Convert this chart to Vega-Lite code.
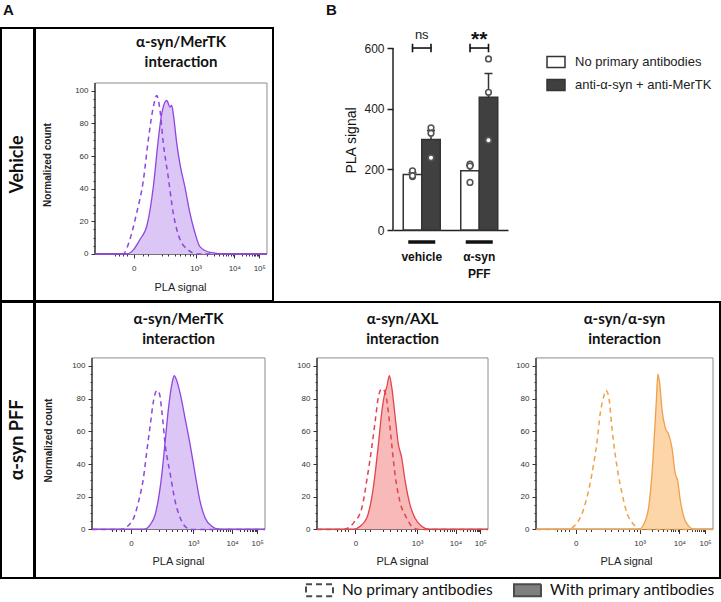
{
  "$schema": "https://vega.github.io/schema/vega-lite/v6.json",
  "padding": {"left": 0, "top": 2, "right": 0, "bottom": 0},
  "background": "white",
  "config": {"view": {"stroke": null}, "font": "Liberation Sans", "axis": {"labelOverlap": false}, "tick": {"opacity": 1}},
  "resolve": {"scale": {"fill": "independent", "strokeDash": "independent"}, "legend": {"fill": "independent", "strokeDash": "independent"}},
  "datasets": {
    "hist": [
      {"panel": "veh_mertk", "antibodies": "no", "channel": 0, "count": 0},
      {"panel": "veh_mertk", "antibodies": "no", "channel": 163, "count": 0},
      {"panel": "veh_mertk", "antibodies": "no", "channel": 203, "count": 9},
      {"panel": "veh_mertk", "antibodies": "no", "channel": 242, "count": 25},
      {"panel": "veh_mertk", "antibodies": "no", "channel": 281, "count": 45},
      {"panel": "veh_mertk", "antibodies": "no", "channel": 310, "count": 70},
      {"panel": "veh_mertk", "antibodies": "no", "channel": 339, "count": 90},
      {"panel": "veh_mertk", "antibodies": "no", "channel": 359, "count": 97},
      {"panel": "veh_mertk", "antibodies": "no", "channel": 378, "count": 88},
      {"panel": "veh_mertk", "antibodies": "no", "channel": 397, "count": 68},
      {"panel": "veh_mertk", "antibodies": "no", "channel": 426, "count": 47},
      {"panel": "veh_mertk", "antibodies": "no", "channel": 455, "count": 25},
      {"panel": "veh_mertk", "antibodies": "no", "channel": 494, "count": 9},
      {"panel": "veh_mertk", "antibodies": "no", "channel": 542, "count": 2.5},
      {"panel": "veh_mertk", "antibodies": "no", "channel": 591, "count": 0},
      {"panel": "veh_mertk", "antibodies": "no", "channel": 1000, "count": 0},
      {"panel": "veh_mertk", "antibodies": "with", "channel": 0, "count": 0},
      {"panel": "veh_mertk", "antibodies": "with", "channel": 184, "count": 0},
      {"panel": "veh_mertk", "antibodies": "with", "channel": 223, "count": 2.5},
      {"panel": "veh_mertk", "antibodies": "with", "channel": 262, "count": 9},
      {"panel": "veh_mertk", "antibodies": "with", "channel": 301, "count": 17},
      {"panel": "veh_mertk", "antibodies": "with", "channel": 339, "count": 41},
      {"panel": "veh_mertk", "antibodies": "with", "channel": 368, "count": 70},
      {"panel": "veh_mertk", "antibodies": "with", "channel": 388, "count": 86},
      {"panel": "veh_mertk", "antibodies": "with", "channel": 417, "count": 94},
      {"panel": "veh_mertk", "antibodies": "with", "channel": 436, "count": 90},
      {"panel": "veh_mertk", "antibodies": "with", "channel": 446, "count": 91},
      {"panel": "veh_mertk", "antibodies": "with", "channel": 455, "count": 86},
      {"panel": "veh_mertk", "antibodies": "with", "channel": 475, "count": 68},
      {"panel": "veh_mertk", "antibodies": "with", "channel": 494, "count": 55},
      {"panel": "veh_mertk", "antibodies": "with", "channel": 523, "count": 41},
      {"panel": "veh_mertk", "antibodies": "with", "channel": 552, "count": 25},
      {"panel": "veh_mertk", "antibodies": "with", "channel": 581, "count": 13},
      {"panel": "veh_mertk", "antibodies": "with", "channel": 610, "count": 4.5},
      {"panel": "veh_mertk", "antibodies": "with", "channel": 669, "count": 1},
      {"panel": "veh_mertk", "antibodies": "with", "channel": 766, "count": 0},
      {"panel": "veh_mertk", "antibodies": "with", "channel": 1000, "count": 0},

      {"panel": "pff_mertk", "antibodies": "no", "channel": 0, "count": 0},
      {"panel": "pff_mertk", "antibodies": "no", "channel": 163, "count": 0},
      {"panel": "pff_mertk", "antibodies": "no", "channel": 231, "count": 5},
      {"panel": "pff_mertk", "antibodies": "no", "channel": 269, "count": 17},
      {"panel": "pff_mertk", "antibodies": "no", "channel": 298, "count": 32},
      {"panel": "pff_mertk", "antibodies": "no", "channel": 317, "count": 48},
      {"panel": "pff_mertk", "antibodies": "no", "channel": 337, "count": 64},
      {"panel": "pff_mertk", "antibodies": "no", "channel": 356, "count": 79},
      {"panel": "pff_mertk", "antibodies": "no", "channel": 375, "count": 85},
      {"panel": "pff_mertk", "antibodies": "no", "channel": 390, "count": 83},
      {"panel": "pff_mertk", "antibodies": "no", "channel": 404, "count": 72},
      {"panel": "pff_mertk", "antibodies": "no", "channel": 423, "count": 52},
      {"panel": "pff_mertk", "antibodies": "no", "channel": 452, "count": 34},
      {"panel": "pff_mertk", "antibodies": "no", "channel": 481, "count": 17},
      {"panel": "pff_mertk", "antibodies": "no", "channel": 510, "count": 7},
      {"panel": "pff_mertk", "antibodies": "no", "channel": 548, "count": 1},
      {"panel": "pff_mertk", "antibodies": "no", "channel": 587, "count": 0},
      {"panel": "pff_mertk", "antibodies": "no", "channel": 1000, "count": 0},
      {"panel": "pff_mertk", "antibodies": "with", "channel": 0, "count": 0},
      {"panel": "pff_mertk", "antibodies": "with", "channel": 298, "count": 0},
      {"panel": "pff_mertk", "antibodies": "with", "channel": 337, "count": 3},
      {"panel": "pff_mertk", "antibodies": "with", "channel": 365, "count": 9},
      {"panel": "pff_mertk", "antibodies": "with", "channel": 404, "count": 34},
      {"panel": "pff_mertk", "antibodies": "with", "channel": 423, "count": 54},
      {"panel": "pff_mertk", "antibodies": "with", "channel": 442, "count": 74},
      {"panel": "pff_mertk", "antibodies": "with", "channel": 462, "count": 89},
      {"panel": "pff_mertk", "antibodies": "with", "channel": 475, "count": 94},
      {"panel": "pff_mertk", "antibodies": "with", "channel": 490, "count": 91},
      {"panel": "pff_mertk", "antibodies": "with", "channel": 510, "count": 83},
      {"panel": "pff_mertk", "antibodies": "with", "channel": 538, "count": 68},
      {"panel": "pff_mertk", "antibodies": "with", "channel": 567, "count": 52},
      {"panel": "pff_mertk", "antibodies": "with", "channel": 596, "count": 34},
      {"panel": "pff_mertk", "antibodies": "with", "channel": 625, "count": 17},
      {"panel": "pff_mertk", "antibodies": "with", "channel": 654, "count": 7},
      {"panel": "pff_mertk", "antibodies": "with", "channel": 692, "count": 2},
      {"panel": "pff_mertk", "antibodies": "with", "channel": 740, "count": 0},
      {"panel": "pff_mertk", "antibodies": "with", "channel": 1000, "count": 0},

      {"panel": "pff_axl", "antibodies": "no", "channel": 0, "count": 0},
      {"panel": "pff_axl", "antibodies": "no", "channel": 155, "count": 0},
      {"panel": "pff_axl", "antibodies": "no", "channel": 214, "count": 4},
      {"panel": "pff_axl", "antibodies": "no", "channel": 262, "count": 13},
      {"panel": "pff_axl", "antibodies": "no", "channel": 291, "count": 30},
      {"panel": "pff_axl", "antibodies": "no", "channel": 320, "count": 50},
      {"panel": "pff_axl", "antibodies": "no", "channel": 340, "count": 66},
      {"panel": "pff_axl", "antibodies": "no", "channel": 359, "count": 81},
      {"panel": "pff_axl", "antibodies": "no", "channel": 379, "count": 86},
      {"panel": "pff_axl", "antibodies": "no", "channel": 398, "count": 84},
      {"panel": "pff_axl", "antibodies": "no", "channel": 417, "count": 72},
      {"panel": "pff_axl", "antibodies": "no", "channel": 437, "count": 52},
      {"panel": "pff_axl", "antibodies": "no", "channel": 456, "count": 34},
      {"panel": "pff_axl", "antibodies": "no", "channel": 485, "count": 17},
      {"panel": "pff_axl", "antibodies": "no", "channel": 524, "count": 7},
      {"panel": "pff_axl", "antibodies": "no", "channel": 563, "count": 1},
      {"panel": "pff_axl", "antibodies": "no", "channel": 602, "count": 0},
      {"panel": "pff_axl", "antibodies": "no", "channel": 1000, "count": 0},
      {"panel": "pff_axl", "antibodies": "with", "channel": 0, "count": 0},
      {"panel": "pff_axl", "antibodies": "with", "channel": 214, "count": 0},
      {"panel": "pff_axl", "antibodies": "with", "channel": 252, "count": 2},
      {"panel": "pff_axl", "antibodies": "with", "channel": 291, "count": 7},
      {"panel": "pff_axl", "antibodies": "with", "channel": 330, "count": 26},
      {"panel": "pff_axl", "antibodies": "with", "channel": 359, "count": 52},
      {"panel": "pff_axl", "antibodies": "with", "channel": 379, "count": 72},
      {"panel": "pff_axl", "antibodies": "with", "channel": 398, "count": 84},
      {"panel": "pff_axl", "antibodies": "with", "channel": 408, "count": 87},
      {"panel": "pff_axl", "antibodies": "with", "channel": 423, "count": 94},
      {"panel": "pff_axl", "antibodies": "with", "channel": 437, "count": 87},
      {"panel": "pff_axl", "antibodies": "with", "channel": 456, "count": 70},
      {"panel": "pff_axl", "antibodies": "with", "channel": 476, "count": 52},
      {"panel": "pff_axl", "antibodies": "with", "channel": 495, "count": 44},
      {"panel": "pff_axl", "antibodies": "with", "channel": 515, "count": 30},
      {"panel": "pff_axl", "antibodies": "with", "channel": 544, "count": 15},
      {"panel": "pff_axl", "antibodies": "with", "channel": 573, "count": 7},
      {"panel": "pff_axl", "antibodies": "with", "channel": 612, "count": 2},
      {"panel": "pff_axl", "antibodies": "with", "channel": 660, "count": 0},
      {"panel": "pff_axl", "antibodies": "with", "channel": 1000, "count": 0},

      {"panel": "pff_asyn", "antibodies": "no", "channel": 0, "count": 0},
      {"panel": "pff_asyn", "antibodies": "no", "channel": 175, "count": 0},
      {"panel": "pff_asyn", "antibodies": "no", "channel": 232, "count": 4},
      {"panel": "pff_asyn", "antibodies": "no", "channel": 279, "count": 16},
      {"panel": "pff_asyn", "antibodies": "no", "channel": 316, "count": 34},
      {"panel": "pff_asyn", "antibodies": "no", "channel": 345, "count": 54},
      {"panel": "pff_asyn", "antibodies": "no", "channel": 363, "count": 71},
      {"panel": "pff_asyn", "antibodies": "no", "channel": 382, "count": 81},
      {"panel": "pff_asyn", "antibodies": "no", "channel": 395, "count": 85},
      {"panel": "pff_asyn", "antibodies": "no", "channel": 411, "count": 81},
      {"panel": "pff_asyn", "antibodies": "no", "channel": 429, "count": 62},
      {"panel": "pff_asyn", "antibodies": "no", "channel": 458, "count": 38},
      {"panel": "pff_asyn", "antibodies": "no", "channel": 486, "count": 22},
      {"panel": "pff_asyn", "antibodies": "no", "channel": 514, "count": 10},
      {"panel": "pff_asyn", "antibodies": "no", "channel": 552, "count": 3},
      {"panel": "pff_asyn", "antibodies": "no", "channel": 589, "count": 0},
      {"panel": "pff_asyn", "antibodies": "no", "channel": 1000, "count": 0},
      {"panel": "pff_asyn", "antibodies": "with", "channel": 0, "count": 0},
      {"panel": "pff_asyn", "antibodies": "with", "channel": 580, "count": 0},
      {"panel": "pff_asyn", "antibodies": "with", "channel": 608, "count": 3},
      {"panel": "pff_asyn", "antibodies": "with", "channel": 637, "count": 14},
      {"panel": "pff_asyn", "antibodies": "with", "channel": 655, "count": 34},
      {"panel": "pff_asyn", "antibodies": "with", "channel": 669, "count": 58},
      {"panel": "pff_asyn", "antibodies": "with", "channel": 680, "count": 79},
      {"panel": "pff_asyn", "antibodies": "with", "channel": 689, "count": 95},
      {"panel": "pff_asyn", "antibodies": "with", "channel": 699, "count": 89},
      {"panel": "pff_asyn", "antibodies": "with", "channel": 712, "count": 73},
      {"panel": "pff_asyn", "antibodies": "with", "channel": 731, "count": 62},
      {"panel": "pff_asyn", "antibodies": "with", "channel": 750, "count": 58},
      {"panel": "pff_asyn", "antibodies": "with", "channel": 768, "count": 50},
      {"panel": "pff_asyn", "antibodies": "with", "channel": 787, "count": 34},
      {"panel": "pff_asyn", "antibodies": "with", "channel": 800, "count": 30},
      {"panel": "pff_asyn", "antibodies": "with", "channel": 815, "count": 18},
      {"panel": "pff_asyn", "antibodies": "with", "channel": 834, "count": 8},
      {"panel": "pff_asyn", "antibodies": "with", "channel": 863, "count": 2},
      {"panel": "pff_asyn", "antibodies": "with", "channel": 891, "count": 0},
      {"panel": "pff_asyn", "antibodies": "with", "channel": 1000, "count": 0}
    ],
    "bars": [
      {"group": "vehicle", "antibody": "No primary antibodies", "mean": 183, "upper": 189},
      {"group": "vehicle", "antibody": "anti-α-syn + anti-MerTK", "mean": 298, "upper": 328},
      {"group": "α-syn PFF", "antibody": "No primary antibodies", "mean": 195, "upper": 213},
      {"group": "α-syn PFF", "antibody": "anti-α-syn + anti-MerTK", "mean": 438, "upper": 516}
    ],
    "pts": [
      {"group": "vehicle", "antibody": "No primary antibodies", "value": 176},
      {"group": "vehicle", "antibody": "No primary antibodies", "value": 195},
      {"group": "vehicle", "antibody": "No primary antibodies", "value": 179},
      {"group": "vehicle", "antibody": "anti-α-syn + anti-MerTK", "value": 337},
      {"group": "vehicle", "antibody": "anti-α-syn + anti-MerTK", "value": 319},
      {"group": "vehicle", "antibody": "anti-α-syn + anti-MerTK", "value": 238},
      {"group": "α-syn PFF", "antibody": "No primary antibodies", "value": 217},
      {"group": "α-syn PFF", "antibody": "No primary antibodies", "value": 211},
      {"group": "α-syn PFF", "antibody": "No primary antibodies", "value": 157},
      {"group": "α-syn PFF", "antibody": "anti-α-syn + anti-MerTK", "value": 564},
      {"group": "α-syn PFF", "antibody": "anti-α-syn + anti-MerTK", "value": 454},
      {"group": "α-syn PFF", "antibody": "anti-α-syn + anti-MerTK", "value": 296}
    ],
    "sig": [
      {"group": "vehicle", "label": "ns"},
      {"group": "α-syn PFF", "label": "**"}
    ]
  },
  "vconcat": [
    {
      "resolve": {"scale": {"fill": "independent", "strokeDash": "independent"}, "legend": {"fill": "independent", "strokeDash": "independent"}},
      "hconcat": [
        {
          "hconcat": [
            {
              "width": 33, "height": 273,
              "view": {"stroke": "black", "strokeWidth": 2},
              "title": {"text": "A", "anchor": "start", "frame": "group", "dx": 2, "offset": 10, "font": "Liberation Sans", "fontSize": 15, "fontWeight": "bold", "color": "#111"},
              "data": {"values": [{"label": "Vehicle"}]},
              "mark": {"type": "text", "angle": 270, "font": "Lato", "fontSize": 18, "fontWeight": "bold", "color": "#111"},
              "encoding": {"text": {"field": "label"}}
            },
            {
              "width": 238, "height": 273,
              "view": {"stroke": "black", "strokeWidth": 2},
              "layer": [
                {"data": {"values": [{}]}, "mark": {"type": "rect", "fill": "transparent", "stroke": "#8c8c8c", "strokeWidth": 1},
                 "encoding": {
                   "x": {"datum": 0, "type": "quantitative", "scale": {"domain": [-348.8, 1034.9], "nice": false, "zero": false},
                     "axis": {"orient": "bottom", "offset": -47, "domain": false, "grid": false, "tickCount": 100,
                       "values": [116,140,165,184,225,281,310,388,426,465,494,523,552,572,585,653,692,720,742,760,775,788,800,810,854,879,897,911,923,933,941,948,955],
                       "labelExpr": "datum.value == 225 ? '0' : datum.value == 585 ? '10³' : datum.value == 810 ? '10⁴' : datum.value == 955 ? '10⁵' : ''",
                       "tickSize": {"condition": {"test": "datum.value == 225 || datum.value == 585 || datum.value == 810 || datum.value == 955", "value": 4}, "value": 2},
                       "tickColor": "#333", "tickWidth": 1, "labelFont": "Liberation Sans", "labelFontSize": 8, "labelColor": "#333", "labelPadding": 6, "labelFlush": false, "labelOverlap": false, "labelBound": false,
                       "title": "PLA signal", "titleX": 145, "titleY": 33, "titleBaseline": "middle", "titleAlign": "center", "titleFont": "Liberation Sans", "titleFontSize": 11, "titleFontWeight": "normal", "titleColor": "#222"}},
                   "x2": {"datum": 1000},
                   "y": {"datum": 0, "type": "quantitative", "scale": {"domain": [-28.8, 138.4], "nice": false, "zero": false},
                     "axis": {"orient": "left", "offset": -60, "domain": false, "grid": false, "tickCount": 100,
                       "values": [0,5,10,15,20,25,30,35,40,45,50,55,60,65,70,75,80,85,90,95,100],
                       "labelExpr": "datum.value % 20 == 0 ? datum.label : ''",
                       "tickSize": {"condition": {"test": "datum.value % 20 == 0", "value": 4}, "value": 2},
                       "tickColor": "#333", "labelFont": "Liberation Sans", "labelFontSize": 8, "labelColor": "#333", "labelPadding": 3, "labelFlush": false, "labelOverlap": false,
                       "title": "Normalized count", "titleX": -48, "titleBaseline": "middle", "titleAngle": -90, "titleFont": "Liberation Sans", "titleFontSize": 10, "titleFontWeight": "bold", "titleColor": "#222"}},
                   "y2": {"datum": 104.7}
                 }},
                {"data": {"values": [{}]}, "mark": {"type": "rule", "color": "#222", "strokeWidth": 1.2},
                 "encoding": {"x": {"datum": 0, "type": "quantitative"}, "x2": {"datum": 1000}, "y": {"datum": 0, "type": "quantitative"}}},
                {"data": {"values": [{}]}, "mark": {"type": "rule", "color": "#222", "strokeWidth": 1.2},
                 "encoding": {"x": {"datum": 0, "type": "quantitative"}, "y": {"datum": 0, "type": "quantitative"}, "y2": {"datum": 104.7}}},
                {"data": {"name": "hist"}, "transform": [{"filter": "datum.panel == 'veh_mertk' && datum.antibodies == 'with'"}],
                 "mark": {"type": "area", "color": "#dcc6f5", "interpolate": "monotone"},
                 "encoding": {"x": {"field": "channel", "type": "quantitative"}, "y": {"field": "count", "type": "quantitative"}, "y2": {"datum": 0}}},
                {"data": {"name": "hist"}, "transform": [{"filter": "datum.panel == 'veh_mertk' && datum.antibodies == 'with'"}],
                 "mark": {"type": "line", "color": "#8f45df", "strokeWidth": 1.3, "interpolate": "monotone"},
                 "encoding": {"x": {"field": "channel", "type": "quantitative"}, "y": {"field": "count", "type": "quantitative"}}},
                {"data": {"name": "hist"}, "transform": [{"filter": "datum.panel == 'veh_mertk' && datum.antibodies == 'no'"}],
                 "mark": {"type": "line", "color": "#8f45df", "strokeWidth": 1.5, "strokeDash": [5, 4], "interpolate": "monotone"},
                 "encoding": {"x": {"field": "channel", "type": "quantitative"}, "y": {"field": "count", "type": "quantitative"}}},
                {"data": {"values": [{"title": "α-syn/MerTK\ninteraction"}]},
                 "mark": {"type": "text", "font": "Lato", "fontSize": 15, "fontWeight": "bold", "lineBreak": "\n", "lineHeight": 20, "baseline": "top", "color": "#111"},
                 "encoding": {"x": {"datum": 500, "type": "quantitative"}, "y": {"datum": 134.1, "type": "quantitative"}, "text": {"field": "title"}}}
              ]
            }
          ],
          "spacing": -2
        },
        {
          "width": 115, "height": 202,
          "title": {"text": "B", "anchor": "start", "frame": "group", "dx": -67, "offset": 10, "font": "Liberation Sans", "fontSize": 15, "fontWeight": "bold", "color": "#111"},
          "layer": [
            {"data": {"name": "bars"}, "mark": {"type": "bar", "stroke": "#333", "strokeWidth": 1.5},
             "encoding": {
               "x": {"field": "group", "type": "nominal", "sort": ["vehicle", "α-syn PFF"], "scale": {"paddingInner": 0, "paddingOuter": 0},
                 "axis": {"title": null, "domain": true, "domainColor": "#222", "domainWidth": 1.5, "ticks": false, "labelAngle": 0, "labelPadding": 21,
                   "labelFont": "Liberation Sans", "labelFontSize": 12, "labelFontWeight": "bold", "labelColor": "#111", "labelLineHeight": 17,
                   "labelExpr": "datum.value == 'α-syn PFF' ? ['α-syn', 'PFF'] : datum.value"}},
               "xOffset": {"field": "antibody", "type": "nominal", "sort": ["No primary antibodies", "anti-α-syn + anti-MerTK"], "scale": {"paddingInner": 0, "paddingOuter": 0.554}},
               "y": {"field": "mean", "type": "quantitative", "scale": {"domain": [0, 666], "nice": false},
                 "axis": {"values": [0, 200, 400, 600], "domain": false, "grid": false, "tickSize": 6, "tickWidth": 1.5, "tickColor": "#222",
                   "labelFont": "Liberation Sans", "labelFontSize": 12, "labelColor": "#222", "labelPadding": 3,
                   "title": "PLA signal", "titleFont": "Liberation Sans", "titleFontSize": 14, "titleFontWeight": "normal", "titleColor": "#111",
                   "titleX": -42, "titleY": 112, "titleAngle": -90, "titleBaseline": "middle", "titleAlign": "center"}},
               "fill": {"field": "antibody", "type": "nominal", "scale": {"domain": ["No primary antibodies", "anti-α-syn + anti-MerTK"], "range": ["white", "#404040"]},
                 "legend": {"orient": "none", "legendX": 153, "legendY": 24, "title": null, "symbolType": "M-1,-0.6H1V0.6H-1Z", "symbolSize": 324,
                   "symbolStrokeColor": "#333", "symbolStrokeWidth": 1.5, "labelFont": "Liberation Sans", "labelFontSize": 13, "labelColor": "#222", "labelOffset": 9, "rowPadding": 4, "labelLimit": 250}}
             }},
            {"data": {"name": "bars"}, "mark": {"type": "rule", "color": "#333", "strokeWidth": 1.5},
             "encoding": {
               "x": {"field": "group", "type": "nominal", "sort": ["vehicle", "α-syn PFF"]},
               "xOffset": {"field": "antibody", "type": "nominal", "sort": ["No primary antibodies", "anti-α-syn + anti-MerTK"]},
               "y": {"field": "mean", "type": "quantitative"}, "y2": {"field": "upper"}}},
            {"data": {"name": "bars"}, "mark": {"type": "tick", "color": "#333", "size": 8, "thickness": 1.5, "opacity": 1},
             "encoding": {
               "x": {"field": "group", "type": "nominal", "sort": ["vehicle", "α-syn PFF"]},
               "xOffset": {"field": "antibody", "type": "nominal", "sort": ["No primary antibodies", "anti-α-syn + anti-MerTK"]},
               "y": {"field": "upper", "type": "quantitative"}}},
            {"data": {"name": "pts"}, "mark": {"type": "point", "filled": true, "fill": "white", "stroke": "#555", "strokeWidth": 1.6, "size": 32, "opacity": 1},
             "encoding": {
               "x": {"field": "group", "type": "nominal", "sort": ["vehicle", "α-syn PFF"]},
               "xOffset": {"field": "antibody", "type": "nominal", "sort": ["No primary antibodies", "anti-α-syn + anti-MerTK"]},
               "y": {"field": "value", "type": "quantitative"}}},
            {"data": {"values": [{}]}, "mark": {"type": "rule", "color": "#222", "strokeWidth": 1.5},
             "encoding": {"x": {"datum": "vehicle", "type": "nominal", "bandPosition": 0}, "y": {"datum": 0, "type": "quantitative"}, "y2": {"datum": 600}}},
            {"data": {"name": "sig"}, "mark": {"type": "tick", "color": "#111", "size": 27, "thickness": 3.5, "opacity": 1},
             "encoding": {"x": {"field": "group", "type": "nominal", "sort": ["vehicle", "α-syn PFF"]}, "y": {"datum": -39.6, "type": "quantitative"}}},
            {"data": {"name": "sig"}, "mark": {"type": "tick", "color": "#111", "size": 19, "thickness": 1.6, "opacity": 1},
             "encoding": {"x": {"field": "group", "type": "nominal", "sort": ["vehicle", "α-syn PFF"]}, "y": {"datum": 600, "type": "quantitative"}}},
            {"data": {"name": "bars"}, "mark": {"type": "rule", "color": "#111", "strokeWidth": 1.6},
             "encoding": {
               "x": {"field": "group", "type": "nominal", "sort": ["vehicle", "α-syn PFF"]},
               "xOffset": {"field": "antibody", "type": "nominal", "sort": ["No primary antibodies", "anti-α-syn + anti-MerTK"]},
               "y": {"datum": 586, "type": "quantitative"}, "y2": {"datum": 614}}},
            {"data": {"name": "sig"}, "transform": [{"filter": "datum.label == 'ns'"}],
             "mark": {"type": "text", "font": "Liberation Sans", "fontSize": 13, "baseline": "alphabetic", "color": "#222"},
             "encoding": {"x": {"field": "group", "type": "nominal", "sort": ["vehicle", "α-syn PFF"]}, "y": {"datum": 630, "type": "quantitative"}, "text": {"field": "label"}}},
            {"data": {"name": "sig"}, "transform": [{"filter": "datum.label == '**'"}],
             "mark": {"type": "text", "font": "Liberation Sans", "fontSize": 21, "fontWeight": "bold", "baseline": "alphabetic", "color": "#111"},
             "encoding": {"x": {"field": "group", "type": "nominal", "sort": ["vehicle", "α-syn PFF"]}, "y": {"datum": 607, "type": "quantitative"}, "text": {"field": "label"}}}
          ]
        }
      ],
      "spacing": 52
    },
    {
      "resolve": {"scale": {"fill": "independent", "strokeDash": "independent"}, "legend": {"fill": "independent", "strokeDash": "independent"}},
      "hconcat": [
        {
          "width": 33, "height": 276,
          "view": {"stroke": "black", "strokeWidth": 2},
          "data": {"values": [{"label": "α-syn PFF"}]},
          "mark": {"type": "text", "angle": 270, "font": "Lato", "fontSize": 18, "fontWeight": "bold", "color": "#111"},
          "encoding": {"text": {"field": "label"}}
        },
        {
          "width": 685, "height": 276,
          "view": {"stroke": "black", "strokeWidth": 2},
          "resolve": {"scale": {"x": "independent", "y": "independent"}},
          "layer": [
            {
              "layer": [
                {"data": {"values": [{}]}, "mark": {"type": "rect", "fill": "transparent", "stroke": "#8c8c8c", "strokeWidth": 1},
                 "encoding": {
                   "x": {"datum": 0, "type": "quantitative", "scale": {"domain": [-329.5, 3630.1], "nice": false, "zero": false},
                     "axis": {"orient": "bottom", "offset": -48.5, "domain": false, "grid": false, "tickCount": 100,
                       "values": [116,140,165,184,225,281,310,388,426,465,494,523,552,572,585,653,692,720,742,760,775,788,800,810,854,879,897,911,923,933,941,948,955],
                       "labelExpr": "datum.value == 225 ? '0' : datum.value == 585 ? '10³' : datum.value == 810 ? '10⁴' : datum.value == 955 ? '10⁵' : ''",
                       "tickSize": {"condition": {"test": "datum.value == 225 || datum.value == 585 || datum.value == 810 || datum.value == 955", "value": 4}, "value": 2},
                       "tickColor": "#333", "tickWidth": 1, "labelFont": "Liberation Sans", "labelFontSize": 8, "labelColor": "#333", "labelPadding": 6, "labelFlush": false, "labelOverlap": false, "labelBound": false,
                       "title": "PLA signal", "titleX": 143, "titleY": 32, "titleBaseline": "middle", "titleAlign": "center", "titleFont": "Liberation Sans", "titleFontSize": 11, "titleFontWeight": "normal", "titleColor": "#222"}},
                   "x2": {"datum": 1000},
                   "y": {"datum": 0, "type": "quantitative", "scale": {"domain": [-29.7, 139.1], "nice": false, "zero": false},
                     "axis": {"orient": "left", "offset": -57, "domain": false, "grid": false, "tickCount": 100,
                       "values": [0,5,10,15,20,25,30,35,40,45,50,55,60,65,70,75,80,85,90,95,100],
                       "labelExpr": "datum.value % 20 == 0 ? datum.label : ''",
                       "tickSize": {"condition": {"test": "datum.value % 20 == 0", "value": 4}, "value": 2},
                       "tickColor": "#333", "labelFont": "Liberation Sans", "labelFontSize": 8, "labelColor": "#333", "labelPadding": 3, "labelFlush": false, "labelOverlap": false,
                       "title": "Normalized count", "titleX": -44, "titleBaseline": "middle", "titleAngle": -90, "titleFont": "Liberation Sans", "titleFontSize": 10, "titleFontWeight": "bold", "titleColor": "#222"}},
                   "y2": {"datum": 104.9}
                 }},
                {"data": {"values": [{}]}, "mark": {"type": "rule", "color": "#222", "strokeWidth": 1.2},
                 "encoding": {"x": {"datum": 0, "type": "quantitative"}, "x2": {"datum": 1000}, "y": {"datum": 0, "type": "quantitative"}}},
                {"data": {"values": [{}]}, "mark": {"type": "rule", "color": "#222", "strokeWidth": 1.2},
                 "encoding": {"x": {"datum": 0, "type": "quantitative"}, "y": {"datum": 0, "type": "quantitative"}, "y2": {"datum": 104.9}}},
                {"data": {"name": "hist"}, "transform": [{"filter": "datum.panel == 'pff_mertk' && datum.antibodies == 'with'"}],
                 "mark": {"type": "area", "color": "#dcc6f5", "interpolate": "monotone"},
                 "encoding": {"x": {"field": "channel", "type": "quantitative"}, "y": {"field": "count", "type": "quantitative"}, "y2": {"datum": 0}}},
                {"data": {"name": "hist"}, "transform": [{"filter": "datum.panel == 'pff_mertk' && datum.antibodies == 'with'"}],
                 "mark": {"type": "line", "color": "#8f45df", "strokeWidth": 1.3, "interpolate": "monotone"},
                 "encoding": {"x": {"field": "channel", "type": "quantitative"}, "y": {"field": "count", "type": "quantitative"}}},
                {"data": {"name": "hist"}, "transform": [{"filter": "datum.panel == 'pff_mertk' && datum.antibodies == 'no'"}],
                 "mark": {"type": "line", "color": "#8f45df", "strokeWidth": 1.5, "strokeDash": [5, 4], "interpolate": "monotone"},
                 "encoding": {"x": {"field": "channel", "type": "quantitative"}, "y": {"field": "count", "type": "quantitative"}}},
                {"data": {"values": [{"title": "α-syn/MerTK\ninteraction"}]},
                 "mark": {"type": "text", "font": "Lato", "fontSize": 15, "fontWeight": "bold", "lineBreak": "\n", "lineHeight": 20, "baseline": "top", "color": "#111"},
                 "encoding": {"x": {"datum": 500, "type": "quantitative"}, "y": {"datum": 133.0, "type": "quantitative"}, "text": {"field": "title"}}}
              ]
            },
            {
              "layer": [
                {"data": {"values": [{}]}, "mark": {"type": "rect", "fill": "transparent", "stroke": "#8c8c8c", "strokeWidth": 1},
                 "encoding": {
                   "x": {"datum": 0, "type": "quantitative", "scale": {"domain": [-1649.1, 2356.7], "nice": false, "zero": false},
                     "axis": {"orient": "bottom", "offset": -48.5, "domain": false, "grid": false, "tickCount": 100,
                       "values": [116,140,165,184,225,281,310,388,426,465,494,523,552,572,585,653,692,720,742,760,775,788,800,810,854,879,897,911,923,933,941,948,955],
                       "labelExpr": "datum.value == 225 ? '0' : datum.value == 585 ? '10³' : datum.value == 810 ? '10⁴' : datum.value == 955 ? '10⁵' : ''",
                       "tickSize": {"condition": {"test": "datum.value == 225 || datum.value == 585 || datum.value == 810 || datum.value == 955", "value": 4}, "value": 2},
                       "tickColor": "#333", "tickWidth": 1, "labelFont": "Liberation Sans", "labelFontSize": 8, "labelColor": "#333", "labelPadding": 6, "labelFlush": false, "labelOverlap": false, "labelBound": false,
                       "title": "PLA signal", "titleX": 367, "titleY": 32, "titleBaseline": "middle", "titleAlign": "center", "titleFont": "Liberation Sans", "titleFontSize": 11, "titleFontWeight": "normal", "titleColor": "#222"}},
                   "x2": {"datum": 1000},
                   "y": {"datum": 0, "type": "quantitative", "scale": {"domain": [-29.7, 139.1], "nice": false, "zero": false},
                     "axis": {"orient": "left", "offset": -282, "domain": false, "grid": false, "tickCount": 100,
                       "values": [0,5,10,15,20,25,30,35,40,45,50,55,60,65,70,75,80,85,90,95,100],
                       "labelExpr": "datum.value % 20 == 0 ? datum.label : ''",
                       "tickSize": {"condition": {"test": "datum.value % 20 == 0", "value": 4}, "value": 2},
                       "tickColor": "#333", "labelFont": "Liberation Sans", "labelFontSize": 8, "labelColor": "#333", "labelPadding": 3, "labelFlush": false, "labelOverlap": false,
                       "title": null}},
                   "y2": {"datum": 104.9}
                 }},
                {"data": {"values": [{}]}, "mark": {"type": "rule", "color": "#222", "strokeWidth": 1.2},
                 "encoding": {"x": {"datum": 0, "type": "quantitative"}, "x2": {"datum": 1000}, "y": {"datum": 0, "type": "quantitative"}}},
                {"data": {"values": [{}]}, "mark": {"type": "rule", "color": "#222", "strokeWidth": 1.2},
                 "encoding": {"x": {"datum": 0, "type": "quantitative"}, "y": {"datum": 0, "type": "quantitative"}, "y2": {"datum": 104.9}}},
                {"data": {"name": "hist"}, "transform": [{"filter": "datum.panel == 'pff_axl' && datum.antibodies == 'with'"}],
                 "mark": {"type": "area", "color": "#f8b9b9", "interpolate": "monotone"},
                 "encoding": {"x": {"field": "channel", "type": "quantitative"}, "y": {"field": "count", "type": "quantitative"}, "y2": {"datum": 0}}},
                {"data": {"name": "hist"}, "transform": [{"filter": "datum.panel == 'pff_axl' && datum.antibodies == 'with'"}],
                 "mark": {"type": "line", "color": "#e3434d", "strokeWidth": 1.3, "interpolate": "monotone"},
                 "encoding": {"x": {"field": "channel", "type": "quantitative"}, "y": {"field": "count", "type": "quantitative"}}},
                {"data": {"name": "hist"}, "transform": [{"filter": "datum.panel == 'pff_axl' && datum.antibodies == 'no'"}],
                 "mark": {"type": "line", "color": "#e3434d", "strokeWidth": 1.5, "strokeDash": [5, 4], "interpolate": "monotone"},
                 "encoding": {"x": {"field": "channel", "type": "quantitative"}, "y": {"field": "count", "type": "quantitative"}}},
                {"data": {"values": [{"title": "α-syn/AXL\ninteraction"}]},
                 "mark": {"type": "text", "font": "Lato", "fontSize": 15, "fontWeight": "bold", "lineBreak": "\n", "lineHeight": 20, "baseline": "top", "color": "#111"},
                 "encoding": {"x": {"datum": 500, "type": "quantitative"}, "y": {"datum": 133.0, "type": "quantitative"}, "text": {"field": "title"}}}
              ]
            },
            {
              "layer": [
                {"data": {"values": [{}]}, "mark": {"type": "rect", "fill": "transparent", "stroke": "#8c8c8c", "strokeWidth": 1},
                 "encoding": {
                   "x": {"datum": 0, "type": "quantitative", "scale": {"domain": [-2830.5, 1039.5], "nice": false, "zero": false},
                     "axis": {"orient": "bottom", "offset": -48.5, "domain": false, "grid": false, "tickCount": 100,
                       "values": [116,140,165,184,225,281,310,388,426,465,494,523,552,572,585,653,692,720,742,760,775,788,800,810,854,879,897,911,923,933,941,948,955],
                       "labelExpr": "datum.value == 225 ? '0' : datum.value == 585 ? '10³' : datum.value == 810 ? '10⁴' : datum.value == 955 ? '10⁵' : ''",
                       "tickSize": {"condition": {"test": "datum.value == 225 || datum.value == 585 || datum.value == 810 || datum.value == 955", "value": 4}, "value": 2},
                       "tickColor": "#333", "tickWidth": 1, "labelFont": "Liberation Sans", "labelFontSize": 8, "labelColor": "#333", "labelPadding": 6, "labelFlush": false, "labelOverlap": false, "labelBound": false,
                       "title": "PLA signal", "titleX": 591, "titleY": 32, "titleBaseline": "middle", "titleAlign": "center", "titleFont": "Liberation Sans", "titleFontSize": 11, "titleFontWeight": "normal", "titleColor": "#222"}},
                   "x2": {"datum": 1000},
                   "y": {"datum": 0, "type": "quantitative", "scale": {"domain": [-29.7, 139.1], "nice": false, "zero": false},
                     "axis": {"orient": "left", "offset": -501, "domain": false, "grid": false, "tickCount": 100,
                       "values": [0,5,10,15,20,25,30,35,40,45,50,55,60,65,70,75,80,85,90,95,100],
                       "labelExpr": "datum.value % 20 == 0 ? datum.label : ''",
                       "tickSize": {"condition": {"test": "datum.value % 20 == 0", "value": 4}, "value": 2},
                       "tickColor": "#333", "labelFont": "Liberation Sans", "labelFontSize": 8, "labelColor": "#333", "labelPadding": 3, "labelFlush": false, "labelOverlap": false,
                       "title": null}},
                   "y2": {"datum": 104.9}
                 }},
                {"data": {"values": [{}]}, "mark": {"type": "rule", "color": "#222", "strokeWidth": 1.2},
                 "encoding": {"x": {"datum": 0, "type": "quantitative"}, "x2": {"datum": 1000}, "y": {"datum": 0, "type": "quantitative"}}},
                {"data": {"values": [{}]}, "mark": {"type": "rule", "color": "#222", "strokeWidth": 1.2},
                 "encoding": {"x": {"datum": 0, "type": "quantitative"}, "y": {"datum": 0, "type": "quantitative"}, "y2": {"datum": 104.9}}},
                {"data": {"name": "hist"}, "transform": [{"filter": "datum.panel == 'pff_asyn' && datum.antibodies == 'with'"}],
                 "mark": {"type": "area", "color": "#fcd5a8", "interpolate": "monotone"},
                 "encoding": {"x": {"field": "channel", "type": "quantitative"}, "y": {"field": "count", "type": "quantitative"}, "y2": {"datum": 0}}},
                {"data": {"name": "hist"}, "transform": [{"filter": "datum.panel == 'pff_asyn' && datum.antibodies == 'with'"}],
                 "mark": {"type": "line", "color": "#f0a04a", "strokeWidth": 1.3, "interpolate": "monotone"},
                 "encoding": {"x": {"field": "channel", "type": "quantitative"}, "y": {"field": "count", "type": "quantitative"}}},
                {"data": {"name": "hist"}, "transform": [{"filter": "datum.panel == 'pff_asyn' && datum.antibodies == 'no'"}],
                 "mark": {"type": "line", "color": "#f0a04a", "strokeWidth": 1.5, "strokeDash": [5, 4], "interpolate": "monotone"},
                 "encoding": {"x": {"field": "channel", "type": "quantitative"}, "y": {"field": "count", "type": "quantitative"}}},
                {"data": {"values": [{"title": "α-syn/α-syn\ninteraction"}]},
                 "mark": {"type": "text", "font": "Lato", "fontSize": 15, "fontWeight": "bold", "lineBreak": "\n", "lineHeight": 20, "baseline": "top", "color": "#111"},
                 "encoding": {"x": {"datum": 500, "type": "quantitative"}, "y": {"datum": 133.0, "type": "quantitative"}, "text": {"field": "title"}}}
              ]
            },
            {
              "data": {"values": [{"type": "No primary antibodies"}, {"type": "With primary antibodies"}]},
              "transform": [{"filter": "false"}],
              "mark": {"type": "point", "filled": true, "stroke": "black", "strokeWidth": 2},
              "encoding": {
                "fill": {"field": "type", "type": "nominal", "scale": {"domain": ["No primary antibodies", "With primary antibodies"], "range": ["white", "#4a4a4a"]},
                  "legend": {"orient": "none", "legendX": 270, "legendY": 273.5, "direction": "horizontal", "title": null, "symbolType": "M-1,-0.45H1V0.45H-1Z", "symbolSize": 729,
                    "symbolStrokeColor": "black", "symbolStrokeWidth": 2, "labelFont": "Lato", "labelFontSize": 15.5, "labelColor": "#111", "labelOffset": 8, "columnPadding": 16, "labelLimit": 300}},
                "strokeDash": {"field": "type", "type": "nominal", "scale": {"domain": ["No primary antibodies", "With primary antibodies"], "range": [[6, 4], [1, 0]]},
                  "legend": {"orient": "none", "legendX": 270, "legendY": 273.5, "direction": "horizontal", "title": null, "symbolType": "M-1,-0.45H1V0.45H-1Z", "symbolSize": 729,
                    "symbolStrokeColor": "black", "symbolStrokeWidth": 2, "labelFont": "Lato", "labelFontSize": 15.5, "labelColor": "#111", "labelOffset": 8, "columnPadding": 16, "labelLimit": 300}}
              }
            }
          ]
        }
      ],
      "spacing": -2
    }
  ],
  "spacing": -2
}
